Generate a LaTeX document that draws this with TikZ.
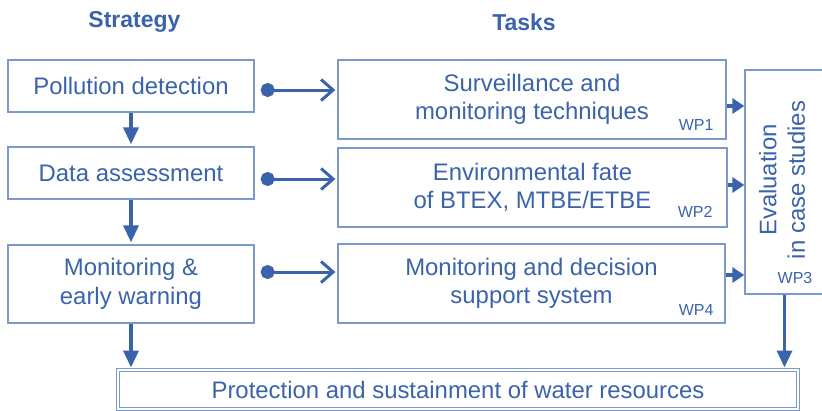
\documentclass[tikz,border=0pt]{standalone}
\usepackage{fontspec}
\setmainfont{Liberation Sans}
\usetikzlibrary{arrows.meta,calc}
\definecolor{wpblue}{HTML}{3A63AC}
\definecolor{boxblue}{HTML}{7B98CF}

\begin{document}
\begin{tikzpicture}[x=1pt,y=-1pt,
  box/.style={draw=boxblue,line width=1.3pt,text=wpblue,align=center,inner sep=0pt,
    font=\fontsize{23.9}{28.5}\selectfont},
  head/.style={text=wpblue,inner sep=0pt,font=\fontsize{23}{27}\selectfont\bfseries},
  wp/.style={text=wpblue,inner sep=0pt,anchor=base east,font=\fontsize{16}{18}\selectfont},
  down/.style={draw=wpblue,line width=3.5pt,shorten >=2pt,-{Triangle[length=17pt,width=15pt]}},
  side/.style={draw=wpblue,line width=3.5pt,-{Triangle[length=12pt,width=15pt]}},
  link/.style={draw=wpblue,line width=3pt,shorten >=2pt,
    {Circle[length=14pt]}-{Straight Barb[length=12pt,width=21pt]}}]
  \useasboundingbox (0,0) rectangle (822,410);

  % headings
  \node[head] (hs) at (134.5,22) {Strategy};
  \node[head] (ht) at (524,22) {Tasks};

  % strategy column
  \node[box,minimum width=246pt,minimum height=52pt] (pd) at (131,86) {Pollution detection};
  \node[box,minimum width=246pt,minimum height=52pt] (da) at (131,173) {Data assessment};
  \node[box,minimum width=246pt,minimum height=78pt] (mw) at (131,284) {Monitoring \&\\early warning};

  % task column
  \node[box,minimum width=388pt,minimum height=79pt] (sm) at (532,99.5) {Surveillance and\\monitoring techniques};
  \node[box,minimum width=389pt,minimum height=79pt] (ef) at (532.5,187.5) {Environmental fate\\of BTEX, MTBE/ETBE};
  \node[box,minimum width=387pt,minimum height=79pt] (ds) at (531.5,283.5) {Monitoring and decision\\support system};
  \node[wp] (wp1) at ($(sm.south east)+(-13,-9)$) {WP1};
  \node[wp] (wp2) at ($(ef.south east)+(-15,-10)$) {WP2};
  \node[wp] (wp4) at ($(ds.south east)+(-12,-8)$) {WP4};

  % evaluation
  \node[box,minimum width=79pt,minimum height=224pt] (ev) at (784.5,182) {};
  \node[text=wpblue,rotate=90,align=center,font=\fontsize{23.9}{28.5}\selectfont] (evt) at (782,180)
    {Evaluation\\in case studies};
  \node[wp,anchor=base] (wp3) at ($(ev.south)+(10.5,-11)$) {WP3};

  % goal
  \node[box,line width=1pt,double,double distance=1.5pt,minimum width=680pt,minimum height=39pt]
    (pr) at (458,389.5) {Protection and sustainment of water resources};

  % connectors
  \draw[down] (pd) -- (da);
  \draw[down] (da) -- (mw);
  \draw[down] (mw.south) -- (mw.south |- pr.north);
  \draw[down] (ev.south) -- (ev.south |- pr.north);

  \coordinate (d1) at ($(pd.east)+(6,4)$);
  \coordinate (d2) at ($(da.east)+(6,6)$);
  \coordinate (d3) at ($(mw.east)+(6,-12)$);
  \draw[link] (d1) -- (d1 -| sm.west);
  \draw[link] (d2) -- (d2 -| ef.west);
  \draw[link] (d3) -- (d3 -| ds.west);

  \draw[side] ([yshift=-6.5pt]sm.east) -- ([yshift=-6.5pt]sm.east -| ev.west);
  \draw[side] ([yshift=2.5pt]ef.east) -- ([yshift=2.5pt]ef.east -| ev.west);
  \draw[side] ([yshift=8.5pt]ds.east) -- ([yshift=8.5pt]ds.east -| ev.west);
\end{tikzpicture}
\end{document}
